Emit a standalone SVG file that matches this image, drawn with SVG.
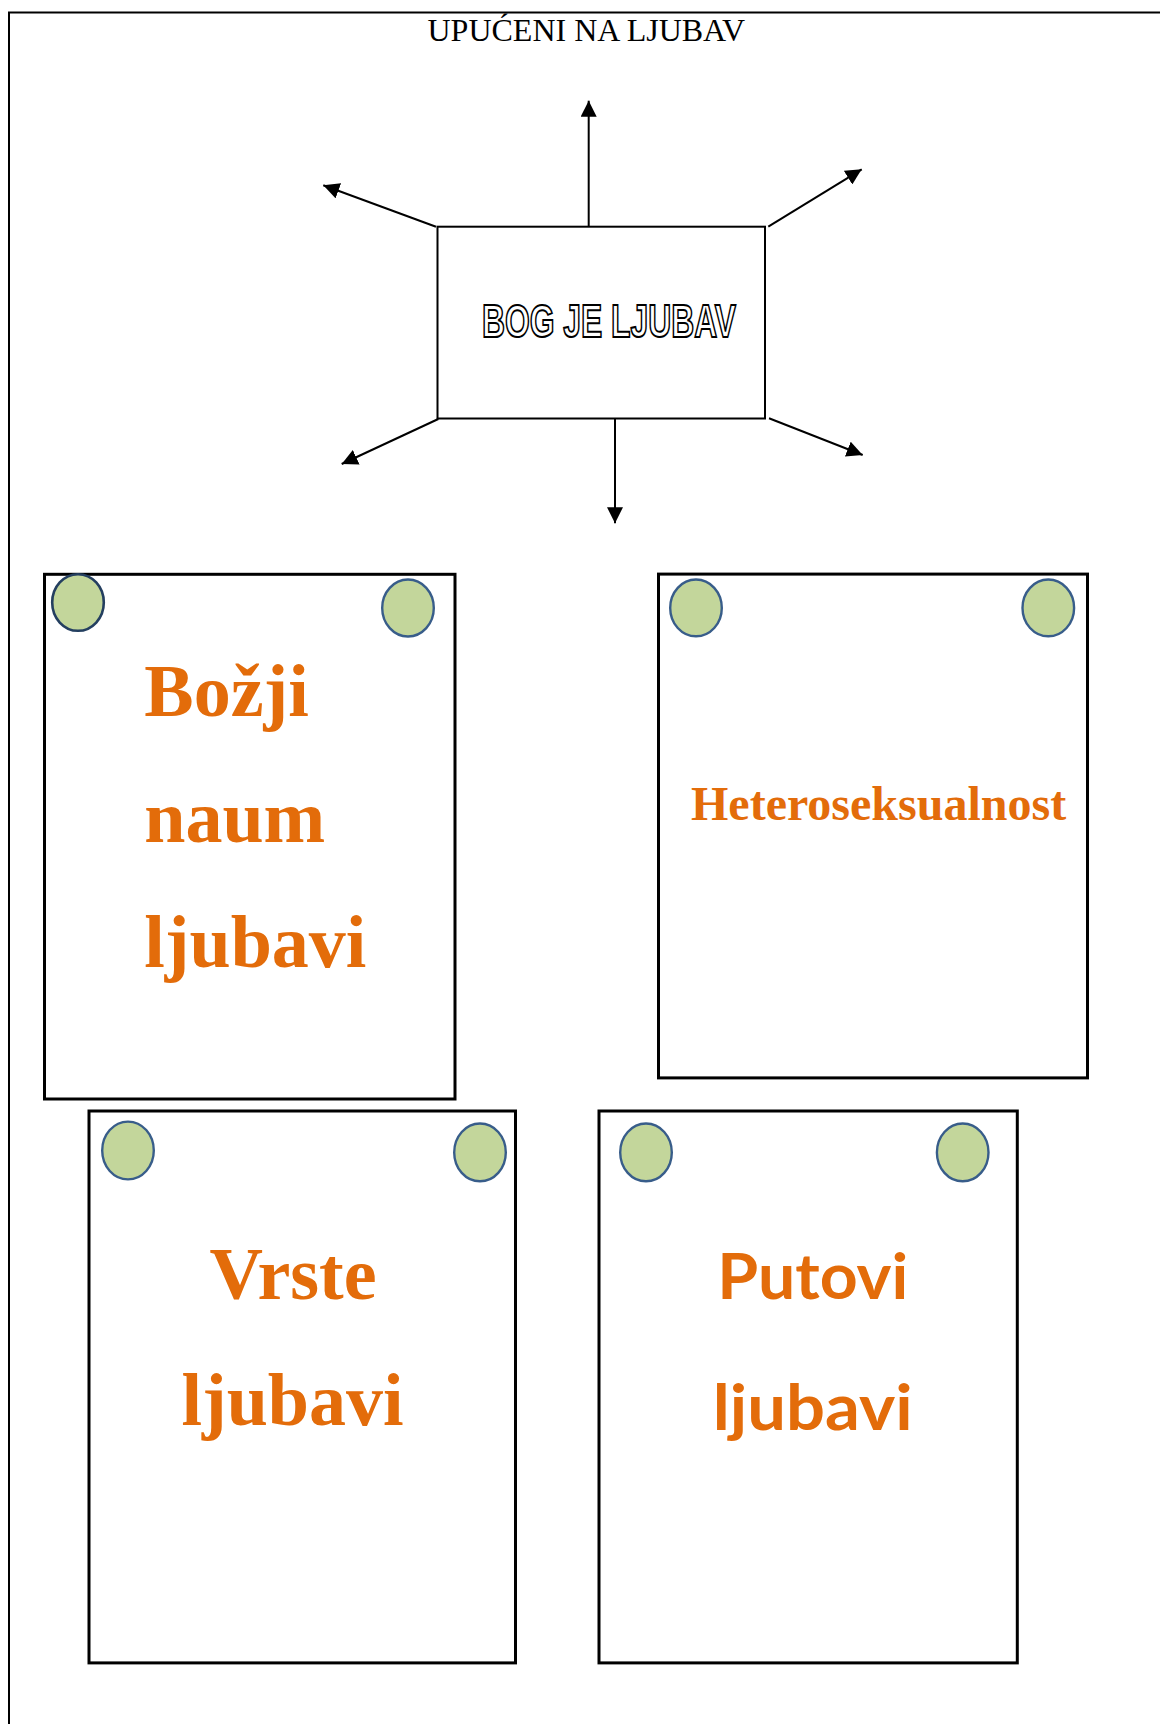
<svg xmlns="http://www.w3.org/2000/svg" width="1160" height="1724" viewBox="0 0 1160 1724">
  <style>
    .card { fill: #ffffff; stroke: #000000; stroke-width: 3; }
    .pin { fill: #c3d69b; stroke: #385d8a; stroke-width: 2.4; }
    .pin-dark { fill: #c3d69b; stroke: #243f60; stroke-width: 2.6; }
    .serif-label { font-family: "Liberation Serif", "Times New Roman", serif; font-weight: bold; fill: #e36c0a; }
    .sans-label { font-family: Lato, "Open Sans", "Liberation Sans", sans-serif; font-weight: bold; fill: #e36c0a; }
    .conn { stroke: #000000; stroke-width: 2; fill: none; marker-end: url(#arrow); }
  </style>
  <defs>
    <marker id="arrow" markerUnits="userSpaceOnUse" markerWidth="17" markerHeight="16" refX="16" refY="8" orient="auto">
      <path d="M0,0 L16,8 L0,16 Z" fill="#000000"/>
    </marker>
  </defs>

  <rect width="1160" height="1724" fill="#ffffff"/>

  <!-- page frame -->
  <path d="M9,1724 V12.5 H1160" fill="none" stroke="#000000" stroke-width="2"/>

  <!-- title -->
  <text id="title" x="427.5" y="40.5" font-family="Liberation Serif, Times New Roman, serif" font-size="32" fill="#000000">UPUĆENI NA LJUBAV</text>

  <!-- central node -->
  <g id="node-bog-je-ljubav">
    <rect x="437.5" y="226.7" width="327.5" height="191.8" fill="#ffffff" stroke="#000000" stroke-width="2"/>
    <text x="482" y="337" font-family="Liberation Sans, Arial, sans-serif" font-weight="bold" font-size="46" fill="#ffffff" stroke="#000000" stroke-width="2" textLength="254" lengthAdjust="spacingAndGlyphs">BOG JE LJUBAV</text>
  </g>

  <!-- connectors -->
  <g id="connectors">
    <line class="conn" x1="588.7" y1="226.7" x2="588.7" y2="100.7"/>
    <line class="conn" x1="436" y1="226.7" x2="323.3" y2="185.3"/>
    <line class="conn" x1="768.3" y1="226.7" x2="861.7" y2="169.3"/>
    <line class="conn" x1="438.3" y1="419" x2="341.7" y2="464"/>
    <line class="conn" x1="769" y1="418.3" x2="862.7" y2="455"/>
    <line class="conn" x1="615" y1="418.3" x2="615" y2="523.3"/>
  </g>

  <!-- card 1 -->
  <g id="node-bozji-naum">
    <rect class="card" x="44.5" y="574.3" width="410.5" height="524.7"/>
    <ellipse class="pin-dark" cx="78" cy="602.5" rx="25.8" ry="28.3"/>
    <ellipse class="pin" cx="408" cy="608" rx="25.8" ry="28.5"/>
    <text class="serif-label" x="144.3" y="716" font-size="74">Božji</text>
    <text class="serif-label" x="144.3" y="841.7" font-size="74">naum</text>
    <text class="serif-label" x="144.3" y="967.3" font-size="74">ljubavi</text>
  </g>

  <!-- card 2 -->
  <g id="node-heteroseksualnost">
    <rect class="card" x="658.5" y="574.1" width="429" height="503.8"/>
    <ellipse class="pin" cx="696" cy="607.9" rx="25.8" ry="28.4"/>
    <ellipse class="pin" cx="1048.3" cy="607.9" rx="25.8" ry="28.4"/>
    <text class="serif-label" x="691" y="820.3" font-size="48">Heteroseksualnost</text>
  </g>

  <!-- card 3 -->
  <g id="node-vrste-ljubavi">
    <rect class="card" x="89" y="1111" width="426.5" height="551.9"/>
    <ellipse class="pin" cx="128" cy="1150.5" rx="25.8" ry="28.9"/>
    <ellipse class="pin" cx="480" cy="1152.4" rx="25.8" ry="28.9"/>
    <text class="serif-label" x="293" y="1298.5" font-size="74" text-anchor="middle">Vrste</text>
    <text class="serif-label" x="292.5" y="1424.5" font-size="74" text-anchor="middle">ljubavi</text>
  </g>

  <!-- card 4 -->
  <g id="node-putovi-ljubavi">
    <rect class="card" x="599" y="1111" width="418.3" height="551.9"/>
    <ellipse class="pin" cx="646" cy="1152.4" rx="25.8" ry="28.9"/>
    <ellipse class="pin" cx="962.7" cy="1152.4" rx="25.8" ry="28.9"/>
    <text class="sans-label" x="717.3" y="1298.6" font-size="64" textLength="191" lengthAdjust="spacingAndGlyphs">Putovi</text>
    <text class="sans-label" x="712.7" y="1430" font-size="64" textLength="200" lengthAdjust="spacingAndGlyphs">ljubavi</text>
  </g>
</svg>
